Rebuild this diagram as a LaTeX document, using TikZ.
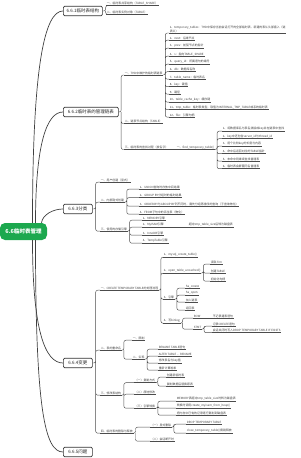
\documentclass[tikz,border=0pt]{standalone}
\usepackage{fontspec}
\setmainfont{Noto Sans CJK SC}
\definecolor{rootgreen}{RGB}{28,168,78}

\begin{document}
\begin{tikzpicture}[x=1pt, y=-1pt,
  ul/.style={draw=black!70, line width=0.45pt},
  leaf/.style={anchor=south west, inner xsep=0.6pt, inner ysep=0.5pt, text=black!75,
    font=\fontsize{2.9}{3.4}\selectfont,
    append after command={(\tikzlastnode.south west) edge[ul] (\tikzlastnode.south east)}},
  link/.style={draw=black!70, line width=0.45pt, rounded corners=2pt},
  topic/.style={draw=black!80, line width=0.7pt, rounded corners=1.2pt, fill=white, anchor=west,
    text=black!85, font=\fontsize{4.5}{5}\selectfont, inner xsep=2pt, inner ysep=0pt, minimum height=9.5pt},
  root/.style={fill=rootgreen, text=white, rounded corners=5pt, inner sep=0pt,
    font=\bfseries\fontsize{5.5}{6}\selectfont, minimum width=47pt, minimum height=17pt},
  trunk/.style={draw=black!75, line width=0.7pt}]
\useasboundingbox (0,0) rectangle (300,458);

% centre and main topics
\node[root] (r) at (23.5,231.5) {6.6临时表管理};
\node[topic, minimum width=39pt] (t1) at (63,11)  {6.6.1临时表结构};
\node[topic, minimum width=55pt] (t2) at (63,112) {6.6.2临时表的管理链表};
\node[topic, minimum width=29pt] (t3) at (63,209) {6.6.3分类};
\node[topic, minimum width=29pt] (t4) at (63,363) {6.6.4变更};
\node[topic, minimum width=29pt] (t5) at (63,452) {6.6.5问题};
\draw[trunk] ([xshift=9pt]r.north) .. controls +(0,-160) and +(-18,0) .. (t1.west);
\draw[trunk] ([xshift=12pt]r.north) .. controls +(0,-80) and +(-16,0) .. (t2.west);
\draw[trunk] ([xshift=18pt]r.north) .. controls +(1,-8) and +(-10,0) .. (t3.west);
\draw[trunk] ([xshift=9pt]r.south) .. controls +(0,90) and +(-18,0) .. (t4.west);
\draw[trunk] ([xshift=12pt]r.south) .. controls +(0,170) and +(-18,0) .. (t5.west);

% 6.6.1
\node[leaf] (s1a) at (106,5.5)  {一、临时表共享结构（TABLE\_SHARE）};
\node[leaf] (s1b) at (106,14.5) {二、临时表实例对象（TABLE）};
\draw[link] (t1.east) -- ++(3,0) coordinate (k1) |- (s1a.south west) (k1) |- (s1b.south west);

% 6.6.2
\node[leaf] (s2a) at (124,75)    {一、THD中维护的临时表链表};
\node[leaf] (s2b) at (124,123.5) {二、链表节点结构（TABLE）};
\node[leaf] (s2c) at (124,149.5) {三、临时表的查找过程（按名字）};
\draw[link] (t2.east) -- ++(2.5,0) coordinate (k2) |- (s2a.south west) (k2) |- (s2b.south west) (k2) |- (s2c.south west);
\node[leaf, align=left] (p1) at (169,33) {1、temporary\_tables：THD中保存当前会话打开的全部临时表，新建的表从头部插入（链\\表头）};
\node[leaf] (p2)  at (169,40.2)  {2、next：后继节点};
\node[leaf] (p3)  at (169,48.2)  {3、prev：前驱节点的指针};
\node[leaf] (p4)  at (169,56.2)  {4、s：指向TABLE\_SHARE};
\node[leaf] (p5)  at (169,64.2)  {5、query\_id：所属语句的编号};
\node[leaf] (p6)  at (169,71.7)  {6、db：数据库名称};
\node[leaf] (p7)  at (169,79.2)  {7、table\_name：临时表名};
\node[leaf] (p8)  at (169,86.7)  {8、key：键值};
\node[leaf] (p9)  at (169,94.2)  {9、路径};
\node[leaf] (p10) at (169,102.2) {10、table\_cache\_key：缓存键};
\node[leaf] (p11) at (169,109.7) {11、tmp\_table：临时表类型，取值为INTERNAL\_TMP\_TABLE或系统临时表};
\node[leaf] (p12) at (169,117.2) {12、file：引擎句柄};
\draw[link] (s2a.south east) -- ++(2,0) coordinate (k2a) |- (p1.south west) (k2a) |- (p2.south west)
  (k2a) |- (p3.south west) (k2a) |- (p4.south west) (k2a) |- (p5.south west) (k2a) |- (p6.south west)
  (k2a) |- (p7.south west) (k2a) |- (p8.south west) (k2a) |- (p9.south west) (k2a) |- (p10.south west)
  (k2a) |- (p11.south west) (k2a) |- (p12.south west);
\node[leaf] (s2c1) at (176,149.5) {一、find\_temporary\_table()};
\draw[link] (s2c.south east) -- (s2c1.south west);
\node[leaf] (q1) at (222,131.2) {1、将数据库名与表名拼接成key并在链表中查找};
\node[leaf] (q2) at (222,138.7) {2、key中还包含server\_id与thread\_id};
\node[leaf] (q3) at (222,146.2) {3、逐个比较key的长度与内容};
\node[leaf] (q4) at (222,153.7) {4、命中后返回对应的TABLE指针};
\node[leaf] (q5) at (222,161.2) {5、未命中则继续查找普通表};
\node[leaf] (q6) at (222,168.7) {6、临时表会屏蔽同名普通表};
\draw[link] (s2c1.south east) -- ++(2,0) coordinate (k2c) |- (q1.south west) (k2c) |- (q2.south west)
  (k2c) |- (q3.south west) (k2c) |- (q4.south west) (k2c) |- (q5.south west) (k2c) |- (q6.south west);

% 6.6.3
\node[leaf] (s3a) at (100,182.2) {一、用户创建（显式）};
\node[leaf] (s3b) at (100,202.2) {二、内部隐式创建};
\node[leaf] (s3c) at (100,231.2) {三、使用的存储引擎};
\draw[link] (t3.east) -- ++(3,0) coordinate (k3) |- (s3a.south west) (k3) |- (s3b.south west) (k3) |- (s3c.south west);
\node[leaf] (u1) at (139,189.2) {1、UNION查询时存放中间结果};
\node[leaf] (u2) at (139,197.7) {2、GROUP BY分组时的临时结果};
\node[leaf] (u3) at (139,206.2) {3、ORDER BY与GROUP BY列不同时，需先分组再排序的查询（子查询物化）};
\node[leaf] (u4) at (139,214.2) {4、FROM子句中的派生表（物化）};
\draw[link] (s3b.south east) -- ++(2,0) coordinate (k3b) |- (u1.south west) (k3b) |- (u2.south west)
  (k3b) |- (u3.south west) (k3b) |- (u4.south west);
\node[leaf] (v1) at (142,220.2) {1、MEMORY引擎};
\node[leaf] (v2) at (142,227.2) {2、MyISAM引擎};
\node[leaf] (v3) at (142,235.2) {3、InnoDB引擎};
\node[leaf] (v4) at (142,243.2) {4、TempTable引擎};
\draw[link] (s3c.south east) -- ++(2,0) coordinate (k3c) |- (v1.south west) (k3c) |- (v2.south west)
  (k3c) |- (v3.south west) (k3c) |- (v4.south west);
\node[leaf] (v2x) at (188,227.2) {超过tmp\_table\_size后转为磁盘表};
\draw[link] (v2.south east) -- (v2x.south west);

% 6.6.4
\node[leaf] (s4a) at (100,290.2) {一、CREATE TEMPORARY TABLE的处理流程};
\node[leaf] (s4b) at (100,350.2) {二、表的重命名};
\node[leaf] (s4c) at (100,395.2) {三、修改表结构};
\node[leaf] (s4d) at (100,433.2) {四、临时表的删除与释放};
\draw[link] (t4.east) -- ++(3,0) coordinate (k4) |- (s4a.south west) (k4) |- (s4b.south west)
  (k4) |- (s4c.south west) (k4) |- (s4d.south west);
\node[leaf] (w1) at (163,257.2) {1、mysql\_create\_table()};
\node[leaf] (w2) at (163,273.2) {2、open\_table\_uncached()};
\node[leaf] (w3) at (163,299.2) {3、引擎};
\node[leaf] (w4) at (163,323.2) {4、写binlog};
\draw[link] (s4a.south east) -- ++(2,0) coordinate (k4a) |- (w1.south west) (k4a) |- (w2.south west)
  (k4a) |- (w3.south west) (k4a) |- (w4.south west);
\node[leaf] (w2a) at (210,264.2) {读取.frm};
\node[leaf] (w2b) at (210,273.2) {创建TABLE};
\node[leaf] (w2c) at (210,281.2) {初始化句柄};
\draw[link] (w2.south east) -- ++(2,0) coordinate (kw2) |- (w2a.south west) (kw2) |- (w2b.south west) (kw2) |- (w2c.south west);
\node[leaf] (w3a) at (185,288.2) {ha\_create};
\node[leaf] (w3b) at (185,295.2) {ha\_open};
\node[leaf] (w3c) at (185,302.2) {加入链表};
\node[leaf] (w3d) at (185,310.2) {返回表};
\draw[link] (w3.south east) -- ++(2,0) coordinate (kw3) |- (w3a.south west) (kw3) |- (w3b.south west)
  (kw3) |- (w3c.south west) (kw3) |- (w3d.south west);
\node[leaf] (w4b) at (193,318.2) {ROW};
\node[leaf] (w4c) at (193,329.2) {STMT};
\draw[link] (w4.south east) -- ++(2,0) coordinate (kw4) |- (w4b.south west) (kw4) |- (w4c.south west);
\node[leaf] (w4bx) at (212,318.2) {不记录建表语句};
\draw[link] (w4b.south east) -- (w4bx.south west);
\node[leaf] (w4c1) at (212,326.2) {记录CREATE语句};
\node[leaf] (w4c2) at (212,332.7) {会话关闭时写入DROP TEMPORARY TABLE IF EXISTS};
\draw[link] (w4c.south east) -- ++(2,0) coordinate (kw4c) |- (w4c1.south west) (kw4c) |- (w4c2.south west);
\node[leaf] (x1) at (132,340.2) {一、限制};
\node[leaf] (x2) at (132,359.2) {二、实现};
\draw[link] (s4b.south east) -- ++(2,0) coordinate (k4b) |- (x1.south west) (k4b) |- (x2.south west);
\node[leaf] (x2a) at (158,349.2) {RENAME TABLE语句};
\node[leaf] (x2b) at (158,356.2) {ALTER TABLE ... RENAME};
\node[leaf] (x2c) at (158,363.2) {修改表名与key值};
\node[leaf] (x2d) at (158,370.2) {重新计算哈希};
\draw[link] (x2.south east) -- ++(2,0) coordinate (kx2) |- (x2a.south west) (kx2) |- (x2b.south west)
  (kx2) |- (x2c.south west) (kx2) |- (x2d.south west);
\node[leaf] (y1) at (134,382.7) {（一）复制方式};
\node[leaf] (y2) at (134,394.2) {（二）原地修改};
\node[leaf] (y3) at (134,408.2) {（三）引擎转换};
\draw[link] (s4c.south east) -- ++(2,0) coordinate (k4c) |- (y1.south west) (k4c) |- (y2.south west) (k4c) |- (y3.south west);
\node[leaf] (y1a) at (166,377.2) {创建新临时表};
\node[leaf] (y1b) at (166,386.2) {复制数据后替换原表};
\draw[link] (y1.south east) -- ++(2,0) coordinate (ky1) |- (y1a.south west) (ky1) |- (y1b.south west);
\node[leaf] (y3a) at (176,401.2) {MEMORY表超过tmp\_table\_size时转为磁盘表};
\node[leaf] (y3b) at (176,408.2) {转换时调用create\_myisam\_from\_heap()};
\node[leaf] (y3c) at (176,415.2) {把内存中已有的记录逐行复制到磁盘表};
\draw[link] (y3.south east) -- ++(2,0) coordinate (ky3) |- (y3a.south west) (ky3) |- (y3b.south west) (ky3) |- (y3c.south west);
\node[leaf] (z1) at (150,427.2) {（一）显式删除};
\node[leaf] (z2) at (150,441.2) {（二）会话断开时};
\draw[link] (s4d.south east) -- ++(2,0) coordinate (k4d) |- (z1.south west) (k4d) |- (z2.south west);
\node[leaf] (z1a) at (186,424.2) {DROP TEMPORARY TABLE};
\node[leaf] (z1b) at (186,433.2) {close\_temporary\_table()摘链释放};
\draw[link] (z1.south east) -- ++(2,0) coordinate (kz1) |- (z1a.south west) (kz1) |- (z1b.south west);
\end{tikzpicture}
\end{document}
